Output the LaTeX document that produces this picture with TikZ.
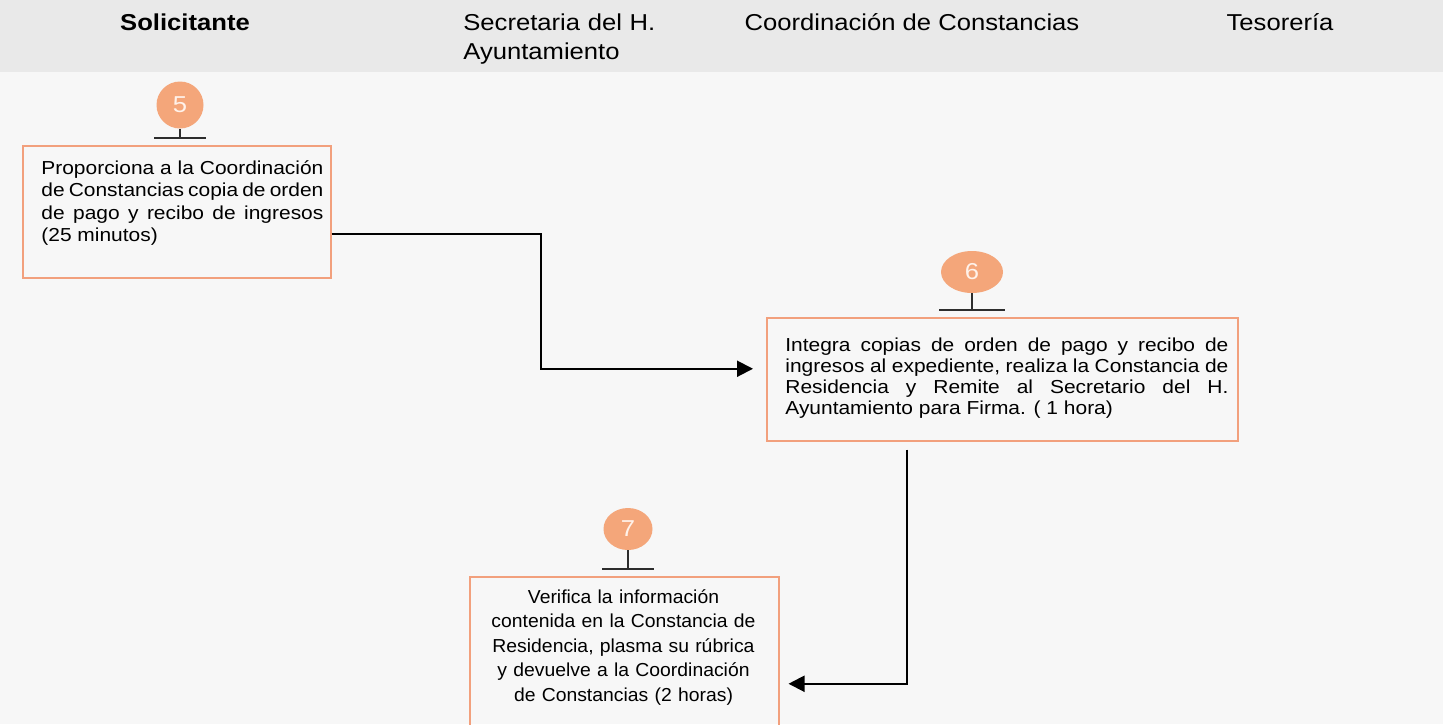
\documentclass[tikz,border=0pt]{standalone}
\usepackage{fontspec}
\setmainfont{Liberation Sans}[FakeStretch=1.114]
\newfontfamily\angostafont{Liberation Sans}[FakeStretch=1.03]
\usetikzlibrary{positioning,arrows.meta,shapes.geometric}

\definecolor{fondo}{RGB}{247,247,247}
\definecolor{banda}{RGB}{233,233,233}
\definecolor{bordenaranja}{RGB}{242,160,125}
\definecolor{circulonaranja}{RGB}{244,166,122}
\definecolor{numeroblanco}{RGB}{255,242,234}
\definecolor{tallogris}{RGB}{45,45,45}

\tikzset{
  caja/.style={draw=bordenaranja, line width=0.75pt, anchor=north west, inner sep=0pt},
  texto/.style={inner sep=0pt},
  paso/.style={ellipse, fill=circulonaranja, text=numeroblanco, inner sep=0pt, font=\fontsize{11.5}{11.5}\selectfont},
  tallo/.style={draw=tallogris, line width=0.75pt},
  flecha/.style={line width=1pt, -{Triangle[length=8pt,width=8pt]}},
  titulo/.style={inner sep=0pt, font=\fontsize{11.5}{14.5}\selectfont}
}

\begin{document}
\begin{tikzpicture}[x=0.5pt,y=0.5pt,yscale=-1,xscale=1]
        \useasboundingbox (0,0) rectangle (1443,724);
        \clip (0,0) rectangle (1443,724);

        %Shape: Rectangle [fondo y banda de titulos]
        \fill[fondo] (0,0) rectangle (1443,724);
        \fill[banda] (0,0) rectangle (1443,72);

        % Text Node
        \node[titulo, font=\fontsize{11.5}{14.5}\selectfont\bfseries, anchor=base] (solicitante) at (185,30) {Solicitante};
        % Text Node
        \node[titulo, anchor=base west, text width=100pt, align=left] (secretaria) at (463,30) {Secretaria del H.\\Ayuntamiento};
        % Text Node
        \node[titulo, anchor=base] (coordinacion) at (912,30) {Coordinación de Constancias};
        % Text Node
        \node[titulo, anchor=base] (tesoreria) at (1280,30) {Tesorería};

        %Shape: Rectangle [paso 5]
        \node[caja, minimum width=154pt, minimum height=66pt] (caja5) at (22,145) {};
        \node[texto, anchor=base west, text width=141pt, align=justify, font=\fontsize{9.4}{11.25}\selectfont] (texto5) at (41,174)
          {Proporciona a la Coordinación\linebreak de Constancias copia de orden\linebreak de pago y recibo de ingresos\linebreak (25 minutos)};
        %Shape: Rectangle [paso 6]
        \node[caja, minimum width=235.5pt, minimum height=61.5pt] (caja6) at (766,317) {};
        \node[texto, anchor=base west, text width=221.5pt, align=justify, font=\fontsize{9.4}{10.5}\selectfont] (texto6) at (785,351)
          {Integra copias de orden de pago y recibo de\linebreak ingresos al expediente, realiza la Constancia de\linebreak Residencia y Remite al Secretario del H.\linebreak Ayuntamiento para Firma. ( 1 hora)};
        %Shape: Rectangle [paso 7]
        \node[caja, minimum width=154.5pt, minimum height=107pt] (caja7) at (469,576) {};
        \node[texto, anchor=base, text width=150pt, align=center, font=\angostafont\fontsize{9.4}{12.25}\selectfont] (texto7) at (623.5,603)
          {Verifica la información\\contenida en la Constancia de\\Residencia, plasma su rúbrica\\y devuelve a la Coordinación\\de Constancias (2 horas)};

        %Shape: Ellipse [numeros]
        \node[paso, minimum width=23.5pt, minimum height=23.5pt] (circ5) at (180,105) {5};
        \node[paso, minimum width=31pt, minimum height=21pt] (circ6) at (972,272) {6};
        \node[paso, minimum width=24.5pt, minimum height=21pt] (circ7) at (628,529) {7};

        %Straight Lines [tallos]
        \foreach \n/\w in {5/13,6/16.5,7/13}{
          \draw[tallo] (circ\n.south) -- ([yshift=-3.5pt]circ\n.south |- caja\n.north);
          \draw[tallo] ([xshift=-\w pt,yshift=-3.5pt]circ\n.south |- caja\n.north) -- ([xshift=\w pt,yshift=-3.5pt]circ\n.south |- caja\n.north);
        }

        %Straight Lines [flechas]
        \coordinate (codo1) at (541,300);
        \draw[flecha] ([yshift=11pt]caja5.east) -| (codo1) |- ([xshift=-6.5pt,yshift=-5.25pt]caja6.west);
        \draw[flecha] ([xshift=-47.75pt,yshift=4pt]caja6.south) |- ([xshift=4.5pt]caja7.east);

\end{tikzpicture}
\end{document}
